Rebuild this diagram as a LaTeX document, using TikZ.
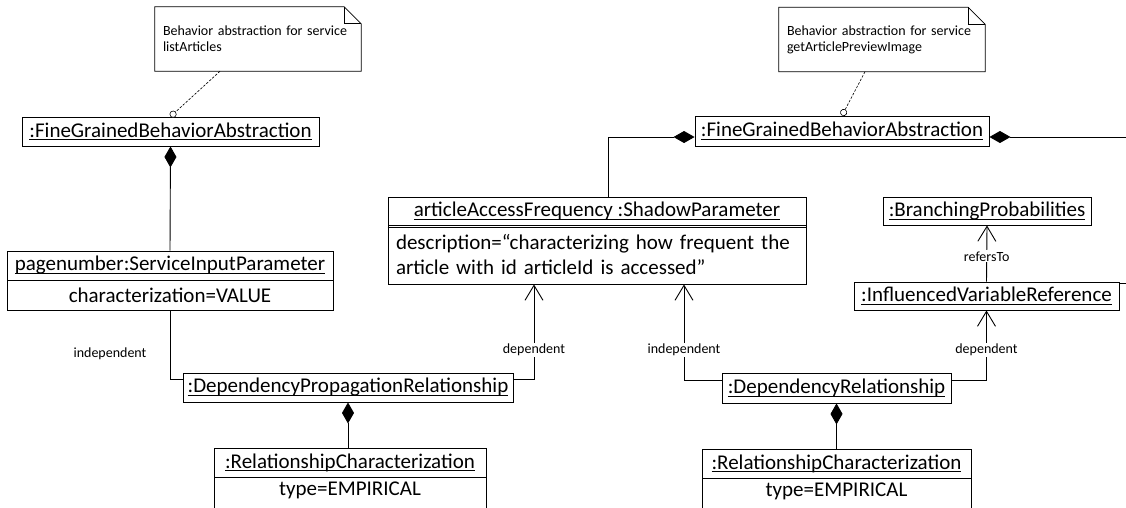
\documentclass[tikz,border=0pt]{standalone}
\usepackage{fontspec}
\setmainfont{Carlito}
\usetikzlibrary{arrows.meta,calc}
% underline drawn at a fixed depth below the baseline
\newsavebox\ulbox
\newcommand\ulined[1]{\sbox\ulbox{#1}\usebox\ulbox\llap{\rule[-3pt]{\wd\ulbox}{0.9pt}}}

\begin{document}
\begin{tikzpicture}[x=1pt,y=-1pt,
  big/.style={font=\fontsize{21}{25}\selectfont},
  small/.style={font=\fontsize{14}{16}\selectfont},
  objbox/.style={draw, line width=0.9pt, fill=white, inner sep=0pt, big, align=center},
  notebox/.style={small, inner xsep=8pt, inner ysep=0pt, text width=190pt, minimum height=64pt, align=left},
  noteline/.style={line width=0.8pt},
  link/.style={line width=0.9pt},
  comp/.style={link, {Diamond[length=21pt,width=12pt]}-},
  navi/.style={link, -{Straight Barb[length=15pt,width=18pt]}},
  anchorline/.style={line width=0.6pt, dash pattern=on 2.5pt off 1.5pt, -{Circle[open,length=7pt,width=7pt,fill=white]}},
  role/.style={small, fill=white, inner sep=1pt},
  label/.style={small, inner sep=1pt},
]
\useasboundingbox (0,0) rectangle (1126,507);
\clip (0,0) rectangle (1126,507);
\fill[white] (0,0) rectangle (1126,507);

% notes
\node[notebox] (note1) at (258,39) {Behavior abstraction for service\\listArticles};
\draw[noteline] (note1.south west) -- (note1.north west) -- ([xshift=-17pt]note1.north east)
  -- ([yshift=-17pt]note1.north east) -- (note1.south east) -- cycle;
\draw[noteline] ([xshift=-17pt]note1.north east) |- ([yshift=-17pt]note1.north east);

\node[notebox] (note2) at (882,39.5) {Behavior abstraction for service\\getArticlePreviewImage};
\draw[noteline] (note2.south west) -- (note2.north west) -- ([xshift=-17pt]note2.north east)
  -- ([yshift=-17pt]note2.north east) -- (note2.south east) -- cycle;
\draw[noteline] ([xshift=-17pt]note2.north east) |- ([yshift=-17pt]note2.north east);

% objects
\node[objbox, minimum width=297pt, minimum height=29pt] (fgba1) at (170.5,131.5) {\ulined{:FineGrainedBehaviorAbstraction}};
\node[objbox, minimum width=294pt, minimum height=30pt] (fgba2) at (842,131) {\ulined{:FineGrainedBehaviorAbstraction}};

\node[objbox, minimum width=326pt, minimum height=29pt] (pn) at (170,265.5) {\ulined{pagenumber:ServiceInputParameter}};
\node[objbox, minimum width=326pt, minimum height=30pt] (pnv) at (170,295) {characterization=VALUE};

\node[objbox, minimum width=418pt, minimum height=28pt] (sp) at (597,211) {\ulined{articleAccessFrequency :ShadowParameter}};
\node[objbox, text width=402pt, inner xsep=8pt, minimum height=59pt, align=left] (spd) at (597,254.5)
  {description=“characterizing how frequent the\\article with id articleId is accessed”};
\draw[line width=0.9pt] ([yshift=-2pt]sp.south west) -- ([yshift=-2pt]sp.south east);

\node[objbox, minimum width=208pt, minimum height=28pt] (bp) at (987,211) {\ulined{:BranchingProbabilities}};
\node[objbox, minimum width=265pt, minimum height=28pt] (ivr) at (986.5,296) {\ulined{:InfluencedVariableReference}};

\node[objbox, minimum width=330pt, minimum height=29pt] (dpr) at (348,387.5) {\ulined{:DependencyPropagationRelationship}};
\node[objbox, minimum width=229pt, minimum height=30pt] (dr) at (836.5,388) {\ulined{:DependencyRelationship}};

\node[objbox, minimum width=272pt, minimum height=29pt] (rc1) at (350,462.5) {\ulined{:RelationshipCharacterization}};
\node[objbox, minimum width=272pt, minimum height=50pt, text depth=27pt] (rc1v) at (350,502) {type=EMPIRICAL};
\node[objbox, minimum width=269pt, minimum height=29pt] (rc2) at (836.5,463.5) {\ulined{:RelationshipCharacterization}};
\node[objbox, minimum width=269pt, minimum height=50pt, text depth=27pt] (rc2v) at (836.5,503) {type=EMPIRICAL};

\coordinate (offright) at (1130,137);
\coordinate (ivrout) at (1130,283);
\node[label] (indeplabel) at (110,354) {independent};

% connectors
\draw[anchorline] ([xshift=-38pt]note1.south) -- (fgba1.north);
\draw[anchorline] ([xshift=-17pt]note2.south) -- (fgba2.north);

\draw[comp] (fgba1.south) -- (pn.north);
\draw[link] (pnv.south) |- ([yshift=8pt]dpr.west);
\draw[navi] ([yshift=8pt]dpr.east) -| ([xshift=-63pt]spd.south) node[role, pos=0.655] {dependent};
\draw[navi] ([yshift=8pt]dr.west) -| ([xshift=87pt]spd.south) node[role, pos=0.656] {independent};
\draw[navi] ([yshift=8pt]dr.east) -| (ivr.south) node[role, pos=0.714] {dependent};
\draw[navi] (ivr.north) -- (bp.south) node[role, pos=0.45] {refersTo};

\draw[comp] ([yshift=-6pt]fgba2.west) -| ([xshift=11pt]sp.north);
\draw[comp] ([yshift=-6pt]fgba2.east) -- (offright);
\draw[link] ([yshift=13pt]ivr.east) -- (ivrout);

\draw[comp] (dpr.south) -- (dpr.south |- rc1.north);
\draw[comp] (dr.south) -- (dr.south |- rc2.north);
\end{tikzpicture}
\end{document}
